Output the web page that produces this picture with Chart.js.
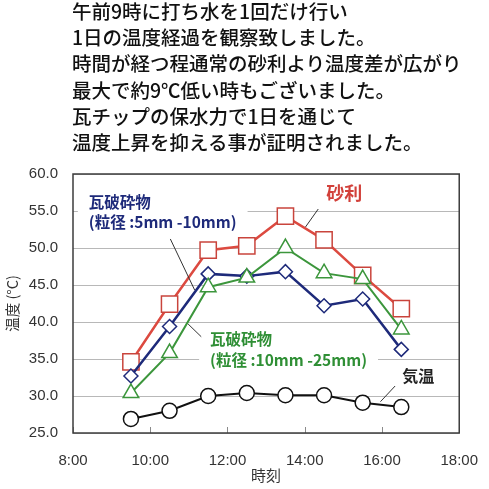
<!DOCTYPE html>
<html>
<head>
<meta charset="utf-8">
<script src="https://cdn.jsdelivr.net/npm/chart.js@4.4.1/dist/chart.umd.min.js"></script>
<style>
html, body { margin: 0; padding: 0; background: #fff; }
#wrap { position: relative; width: 489px; height: 489px; }
#chart { position: absolute; left: 0; top: 0; width: 489px; height: 489px; }
#note {
    position: absolute; left: 72px; top: -2px;
    font-family: "Noto Sans CJK JP", sans-serif; font-size: 19.5px; font-weight: 500;
    line-height: 26.2px; color: #111; white-space: nowrap;
}
</style>
</head>
<body>
<div id="wrap">
    <canvas id="chart" width="489" height="489"></canvas>
    <div id="note">
        午前9時に打ち水を1回だけ行い<br>
        1日の温度経過を観察致しました。<br>
        時間が経つ程通常の砂利より温度差が広がり<br>
        最大で約9℃低い時もございました。<br>
        瓦チップの保水力で1日を通じて<br>
        温度上昇を抑える事が証明されました。
    </div>
</div>
<script>
// measured every hour from 9:30
const times = ['9:30', '10:30', '11:30', '12:30', '13:30', '14:30', '15:30', '16:30'];
const gravel = [34.6, 42.4, 49.7, 50.3, 54.3, 51.1, 46.3, 41.8];
const tileSmall = [32.7, 39.4, 46.5, 46.2, 46.8, 42.2, 43.1, 36.3];
const tileLarge = [30.4, 35.8, 44.7, 46.0, 50.0, 46.6, 45.8, 39.0];
const airTemp = [26.9, 28.0, 30.0, 30.4, 30.1, 30.1, 29.1, 28.5];

const xTickLabels = ['8:00', '10:00', '12:00', '14:00', '16:00', '18:00'];
const yTickValues = [25, 30, 35, 40, 45, 50, 55, 60];

function toHours(t) {
    const p = t.split(':');
    return parseInt(p[0]) + parseInt(p[1]) / 60;
}

function points(values) {
    return values.map((v, i) => ({ x: toHours(times[i]), y: v }));
}

// text labels next to the lines (positions in axis units)
const notes = [
    { lines: ['砂利'], x: 15.02, y: 57.4, align: 'center', color: '#d2403a', size: 18 },
    { lines: ['瓦破砕物', '(粒径 :5mm -10mm)'], x: 8.41, y: 56.26, align: 'left', color: '#1e2a7a', size: 15.5 },
    { lines: ['瓦破砕物', '(粒径 :10mm -25mm)'], x: 11.55, y: 37.7, align: 'left', color: '#2f8f35', size: 15.5 },
    { lines: ['気温'], x: 16.94, y: 32.7, align: 'center', color: '#222', size: 16, nobox: true }
];
const leaders = [
    [14.35, 55.27, 14.02, 52.84],
    [10.52, 51.22, 11.15, 44.32],
    [10.98, 39.73, 11.32, 38.01],
    [16.34, 31.35, 15.96, 29.23]
];

const labelPlugin = {
    id: 'labels',
    beforeDatasetsDraw(chart) {
        const { ctx, scales: { x, y } } = chart;
        ctx.save();
        ctx.fillStyle = '#fff';
        notes.forEach(n => {
            if (n.nobox) return;
            ctx.font = `bold ${n.size}px "Noto Sans CJK JP"`;
            const lh = n.size * 1.35;
            const w = Math.max(...n.lines.map(t => ctx.measureText(t).width));
            const px = x.getPixelForValue(n.x);
            const py = y.getPixelForValue(n.y);
            const left = n.align === 'center' ? px - w / 2 : px;
            ctx.fillRect(left - 11, py - lh / 2 - 5, w + 22, lh * n.lines.length + 10);
        });
        ctx.restore();
    },
    afterDatasetsDraw(chart) {
        const { ctx, chartArea: a, scales: { x, y } } = chart;
        ctx.save();
        // leader lines
        ctx.strokeStyle = '#333';
        ctx.lineWidth = 1;
        leaders.forEach(l => {
            ctx.beginPath();
            ctx.moveTo(x.getPixelForValue(l[0]), y.getPixelForValue(l[1]));
            ctx.lineTo(x.getPixelForValue(l[2]), y.getPixelForValue(l[3]));
            ctx.stroke();
        });
        // label text
        ctx.textBaseline = 'middle';
        notes.forEach(n => {
            ctx.font = `bold ${n.size}px "Noto Sans CJK JP"`;
            ctx.fillStyle = n.color;
            ctx.textAlign = n.align;
            const lh = n.size * 1.35;
            n.lines.forEach((t, i) => {
                ctx.fillText(t, x.getPixelForValue(n.x), y.getPixelForValue(n.y) + i * lh);
            });
        });
        // inner tick marks on the time axis
        ctx.strokeStyle = '#8a8a8a';
        ctx.lineWidth = 1;
        xTickLabels.forEach(t => {
            const px = Math.round(x.getPixelForValue(toHours(t))) + 0.5;
            ctx.beginPath();
            ctx.moveTo(px, a.bottom);
            ctx.lineTo(px, a.bottom - 6);
            ctx.stroke();
        });
        // plot frame
        ctx.strokeStyle = '#3c3c3c';
        ctx.lineWidth = 1.5;
        ctx.strokeRect(a.left, a.top, a.right - a.left, a.bottom - a.top);
        ctx.restore();
    }
};

Chart.defaults.font.family = '"Liberation Sans", "Noto Sans CJK JP", sans-serif';
Chart.defaults.color = '#333';

new Chart(document.getElementById('chart'), {
    type: 'line',
    data: {
        datasets: [
            {
                label: '気温',
                data: points(airTemp),
                borderColor: '#111',
                borderWidth: 2,
                pointStyle: 'circle',
                pointRadius: 7.5,
                pointBackgroundColor: '#fff',
                pointBorderColor: '#111',
                pointBorderWidth: 1.5
            },
            {
                label: '瓦破砕物 (粒径:10mm-25mm)',
                data: points(tileLarge),
                borderColor: '#3c963c',
                borderWidth: 2,
                pointStyle: 'triangle',
                pointRadius: 9,
                pointBackgroundColor: '#fff',
                pointBorderColor: '#3c963c',
                pointBorderWidth: 1.5
            },
            {
                label: '瓦破砕物 (粒径:5mm-10mm)',
                data: points(tileSmall),
                borderColor: '#1e2a7a',
                borderWidth: 2.5,
                pointStyle: 'rectRot',
                pointRadius: 7,
                pointBackgroundColor: '#fff',
                pointBorderColor: '#1e2a7a',
                pointBorderWidth: 1.5
            },
            {
                label: '砂利',
                data: points(gravel),
                borderColor: '#dc4a40',
                borderWidth: 2.5,
                pointStyle: 'rect',
                pointRadius: 11.5,
                pointBackgroundColor: '#fff',
                pointBorderColor: '#c9443c',
                pointBorderWidth: 1.5
            }
        ]
    },
    options: {
        responsive: false,
        animation: false,
        layout: { padding: { top: 174, right: 24, left: 0, bottom: 0 } },
        plugins: {
            legend: { display: false },
            tooltip: { enabled: false }
        },
        scales: {
            x: {
                type: 'linear',
                min: toHours(xTickLabels[0]),
                max: toHours(xTickLabels[xTickLabels.length - 1]),
                afterFit(scale) { scale.height = 56; },
                grid: { display: false },
                border: { display: false },
                ticks: {
                    stepSize: 2,
                    padding: 11,
                    font: { size: 15 },
                    color: '#333',
                    maxRotation: 0,
                    callback: v => xTickLabels.find(t => toHours(t) === v) || ''
                },
                title: {
                    display: true,
                    text: '時刻',
                    font: { size: 15, family: '"Noto Sans CJK JP"' },
                    color: '#333',
                    padding: { top: 0, bottom: 5 }
                }
            },
            y: {
                min: yTickValues[0],
                max: yTickValues[yTickValues.length - 1],
                afterFit(scale) { scale.width = 73; },
                grid: { color: '#b8b8b8', lineWidth: 1, drawTicks: false },
                border: { display: false },
                ticks: {
                    stepSize: 5,
                    padding: 15,
                    font: { size: 15 },
                    color: '#333',
                    callback: v => v.toFixed(1)
                },
                title: {
                    display: true,
                    text: '温度 (°C)',
                    font: { size: 14.5, family: '"Noto Sans CJK JP"' },
                    color: '#333',
                    padding: { top: 4, bottom: 0 }
                }
            }
        }
    },
    plugins: [labelPlugin]
});
</script>
</body>
</html>
